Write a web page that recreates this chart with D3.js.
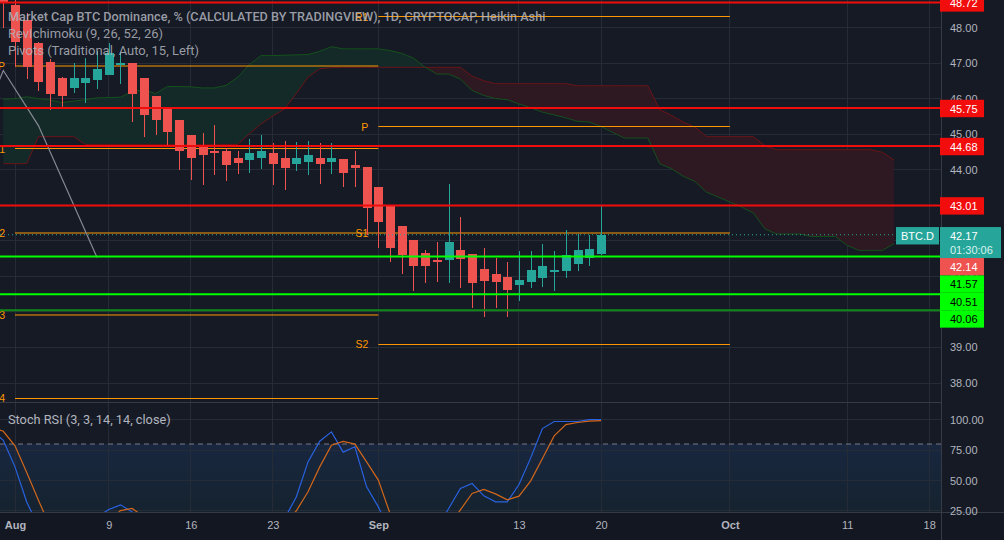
<!DOCTYPE html>
<html>
<head>
<meta charset="utf-8">
<title>BTC Dominance</title>
<script src="https://cdn.jsdelivr.net/npm/d3@7"></script>
<style>
  html, body { margin: 0; padding: 0; background: #131722; overflow: hidden; }
  svg { display: block; }
  text { font-family: "Liberation Sans", Arial, sans-serif; }
  text.legend { font-family: Roboto, sans-serif; }
</style>
</head>
<body>
<div id="chart"></div>
<script>
// Candles, one per day from 31 Jul
let candleStart = "2021-07-31";
let candleOpen = [48.95,48.62,48.20,47.55,47.04,46.59,46.31,46.45,46.51,46.65,46.94,46.99,46.57,46.06,45.75,45.41,44.99,44.68,44.54,44.54,44.34,44.26,44.34,44.46,44.32,44.17,44.23,44.34,44.23,44.29,44.12,44.09,43.50,43.02,42.43,42.01,41.67,41.47,41.45,41.73,41.64,41.22,41.08,40.97,40.77,40.83,40.96,41.14,41.14,41.36,41.53,41.64];
let candleClose = [48.68,47.59,46.90,46.48,46.14,46.06,46.59,46.59,46.82,47.27,47.00,46.12,45.55,45.41,45.05,44.54,44.32,44.40,44.48,44.12,44.20,44.48,44.54,44.15,44.06,44.34,44.40,44.15,44.32,43.92,44.06,42.91,42.52,41.81,41.59,41.28,41.28,41.44,41.98,41.50,40.80,40.88,40.83,40.63,40.91,41.19,41.28,41.19,41.59,41.73,41.76,42.17];
let candleHigh = [49.2,48.9,48.4,47.6,47.1,46.6,46.99,47.13,47.35,47.55,47.30,46.99,46.57,46.06,45.75,45.41,44.99,45.02,45.27,44.62,44.54,44.85,44.99,44.74,44.82,44.77,44.82,44.74,44.74,44.29,44.54,44.09,43.50,43.02,42.43,42.01,41.73,41.98,43.61,42.66,41.64,41.81,41.53,41.39,41.70,41.70,41.90,41.70,42.29,42.18,42.15,42.97];
let candleLow = [47.99,46.9,46.54,46.21,45.67,45.75,46.17,45.89,46.28,46.65,46.40,45.33,44.93,44.99,44.68,44.00,43.72,43.58,43.84,43.67,43.87,43.92,44.03,43.58,43.44,43.95,43.84,43.61,43.89,43.50,43.50,42.15,41.81,41.39,41.08,40.60,40.80,40.83,40.80,40.66,40.10,39.87,40.12,39.87,40.32,40.66,40.69,40.60,40.94,41.16,41.28,41.61];

// Ichimoku leading spans, same start date as the candles
let spanA = [45.98,46.00,46.05,46.00,45.96,45.89,45.93,45.97,46.02,46.03,46.04,46.20,46.25,46.14,46.34,46.34,46.33,46.30,46.30,46.37,46.60,46.96,47.21,47.21,47.22,47.23,47.24,47.33,47.46,47.40,47.40,47.40,47.40,47.35,47.27,47.14,46.88,46.69,46.69,46.55,46.23,46.09,46.00,45.97,45.85,45.74,45.62,45.54,45.46,45.36,45.34,45.22,45.05,44.89,44.89,44.89,44.17,44.03,43.82,43.67,43.37,43.23,43.09,42.95,42.78,42.33,42.19,42.19,42.19,42.12,42.12,42.12,41.87,41.73,41.73,41.73,41.92];
let spanB = [44.17,44.17,44.17,44.93,44.93,44.93,44.93,44.71,44.71,44.71,44.71,44.71,44.71,44.71,44.71,44.71,44.71,44.71,44.71,44.71,44.71,45.01,45.29,45.51,45.71,46.14,46.60,46.84,46.87,46.88,46.88,46.88,46.88,46.88,46.88,46.88,46.88,46.88,46.88,46.88,46.63,46.50,46.42,46.42,46.42,46.42,46.42,46.42,46.42,46.36,46.36,46.36,46.36,46.36,46.36,46.36,45.69,45.53,45.34,45.20,44.93,44.93,44.93,44.93,44.93,44.67,44.56,44.56,44.56,44.56,44.56,44.56,44.56,44.56,44.56,44.49,44.27];

// Stoch RSI, one per day from 30 Jul (lows below 25 sit under the pane edge)
let stochStart = "2021-07-30";
let stochK = [91.4,83.1,61.2,32.4,12,4,2,3,5,20,26.1,30,24.2,16,8,4,3,2,2,3,3,2,2,3,6,18.7,36.5,65.3,82.3,90,73.3,77.7,44.8,28.3,7.8,3,2,4,10.5,27,43.4,47.5,37.4,32.4,32.4,46.7,68.6,92.7,98.5,98.5,98.5,100.1,100.1];
let stochD = [94.1,90.5,78.5,56.6,33.8,11.9,6,3,3,6,16,25.3,27,20.1,15,9,5,3,2,2,3,3,2,2,4,14.6,25,40.7,61.2,79,82.1,79.9,65.3,50.3,22.8,12,5,3,5,11.9,25.9,39.3,42.6,39,34.1,37.1,49.7,68.1,86.7,96,97.7,98.8,99.3];

// Pivot levels
let pivotNames = ["P", "S1", "S2", "S3", "S4", "R1", "P", "S1", "S2"];
let pivotPrices = [46.917, 44.596, 42.219, 39.913, 37.564, 48.309, 45.215, 42.219, 39.083];
let pivotFrom = ["2021-08-01","2021-08-01","2021-08-01","2021-08-01","2021-08-01","2021-09-01","2021-09-01","2021-09-01","2021-09-01"];
let pivotTo = ["2021-09-01","2021-09-01","2021-09-01","2021-09-01","2021-09-01","2021-10-01","2021-10-01","2021-10-01","2021-10-01"];

// Grey trend line
let trendDates = ["2021-07-30", "2021-07-31", "2021-08-03", "2021-08-08"];
let trendPrices = [45.97, 46.79, 45.24, 41.53];

// Drawn levels
let resistance = [48.72, 45.75, 44.68, 43.01];
let support = [41.57, 40.51, 40.06];
let lastPrice = 42.17;
let haClose = 42.14;
let countdown = "01:30:06";
let symbol = "BTC.D";

// Axis ticks
let priceTicks = [48, 47, 46, 45, 44, 43, 42, 41, 40, 39, 38];
let stochTicks = [100, 75, 50, 25];
let stochBand = [80, 20];
let timeTicks = ["2021-08-01","2021-08-09","2021-08-16","2021-08-23","2021-09-01","2021-09-13","2021-09-20","2021-10-01","2021-10-11","2021-10-18"];
let timeLabels = ["Aug","9","16","23","Sep","13","20","Oct","11","18"];
let monthLabels = ["Aug","Sep","Oct"];

let legendLines = [
    "Market Cap BTC Dominance, % (CALCULATED BY TRADINGVIEW), 1D, CRYPTOCAP, Heikin Ashi",
    "RevIchimoku (9, 26, 52, 26)",
    "Pivots (Traditional, Auto, 15, Left)"
];
let stochLegend = "Stoch RSI (3, 3, 14, 14, close)";

const width = 1004, height = 540;
const plotRight = 941, mainBottom = 402, stochBottom = 512;
const bg = "#161a25", gridColor = "#262b38", tickColor = "#b2b5be";
const up = "#26a69a", down = "#ef5350", red = "#f20d0d", lime = "#00ff00", pivotColor = "#ff9800";
const supportLineColors = [lime, lime, "#0f8a17"];

const day = s => d3.utcParse("%Y-%m-%d")(s);
const dayAt = (start, i) => d3.utcDay.offset(day(start), i);

let x = d3.scaleUtc().domain([day("2021-08-01"), day("2021-10-18")]).range([15, 929.2]);
let y = d3.scaleLinear().domain([48, 38]).range([27.5, 383]);
let yStoch = d3.scaleLinear().domain([100, 25]).range([419.7, 510.9]);

let svg = d3.select("#chart").append("svg").attr("width", width).attr("height", height);
svg.append("rect").attr("width", width).attr("height", height).attr("fill", bg);
svg.append("rect").attr("y", stochBottom).attr("width", width).attr("height", height - stochBottom).attr("fill", "#131722");

let defs = svg.append("defs");
defs.append("clipPath").attr("id", "mainClip").append("rect").attr("width", plotRight).attr("height", mainBottom);
defs.append("clipPath").attr("id", "stochClip").append("rect").attr("y", mainBottom).attr("width", plotRight).attr("height", stochBottom - mainBottom);
let bandGrad = defs.append("linearGradient").attr("id", "bandGrad").attr("x1", 0).attr("x2", 0).attr("y1", 0).attr("y2", 1);
bandGrad.append("stop").attr("offset", 0).attr("stop-color", "#18273f");
bandGrad.append("stop").attr("offset", 1).attr("stop-color", "#15232f");

// Stoch band goes under the grid
svg.append("rect")
    .attr("y", yStoch(stochBand[0]))
    .attr("width", plotRight)
    .attr("height", stochBottom - yStoch(stochBand[0]))
    .attr("fill", "url(#bandGrad)");

// Grid ***********************************************************
let grid = svg.append("g").attr("stroke", gridColor).attr("stroke-width", 1).attr("shape-rendering", "crispEdges");
grid.selectAll(".v").data(timeTicks).join("line")
    .attr("x1", d => x(day(d))).attr("x2", d => x(day(d)))
    .attr("y1", 0).attr("y2", stochBottom);
grid.selectAll(".h").data(priceTicks).join("line")
    .attr("x1", 0).attr("x2", plotRight)
    .attr("y1", d => y(d)).attr("y2", d => y(d));
grid.selectAll(".s").data(stochTicks).join("line")
    .attr("x1", 0).attr("x2", plotRight)
    .attr("y1", d => yStoch(d)).attr("y2", d => yStoch(d));

// Main pane ******************************************************
let main = svg.append("g").attr("clip-path", "url(#mainClip)");

// Ichimoku cloud
let cloud = spanA.map((a, i) => ({ date: dayAt(candleStart, i), a: a, b: spanB[i] }));
let cloudArea = d3.area().x(d => x(d.date)).y0(d => y(d.a)).y1(d => y(d.b));
main.append("path").datum(cloud)
    .attr("d", cloudArea.defined(d => d.a >= d.b))
    .attr("fill", "#142a28");
main.append("path").datum(cloud)
    .attr("d", cloudArea.defined(d => d.a <= d.b))
    .attr("fill", "#2e1822");
main.append("path").datum(cloud)
    .attr("d", d3.line().x(d => x(d.date)).y(d => y(d.b)))
    .attr("fill", "none").attr("stroke", "#6a1418").attr("stroke-width", 1);
main.append("path").datum(cloud)
    .attr("d", d3.line().x(d => x(d.date)).y(d => y(d.a)))
    .attr("fill", "none").attr("stroke", "#14501c").attr("stroke-width", 1);

// Pivots
main.selectAll(".pivot").data(pivotPrices).join("line")
    .attr("x1", (d, i) => x(day(pivotFrom[i])))
    .attr("x2", (d, i) => x(day(pivotTo[i])))
    .attr("y1", d => y(d)).attr("y2", d => y(d))
    .attr("stroke", pivotColor).attr("stroke-width", 1);
main.selectAll(".pivotName").data(pivotPrices).join("text")
    .attr("x", (d, i) => x(day(pivotFrom[i])) - 10)
    .attr("y", d => y(d) + 4)
    .attr("text-anchor", "end")
    .attr("font-size", 10.5)
    .attr("fill", pivotColor)
    .text((d, i) => pivotNames[i]);

// Trend line
main.append("path")
    .datum(trendDates.map((d, i) => [x(day(d)), y(trendPrices[i])]))
    .attr("d", d3.line())
    .attr("fill", "none").attr("stroke", "#868993").attr("stroke-width", 1.2);

// Candles
let candles = candleOpen.map((o, i) => ({
    date: dayAt(candleStart, i), open: o, close: candleClose[i], high: candleHigh[i], low: candleLow[i]
}));
let candleG = main.append("g").attr("shape-rendering", "crispEdges");
candleG.selectAll(".wick").data(candles).join("rect")
    .attr("x", d => Math.round(x(d.date)))
    .attr("width", 1)
    .attr("y", d => y(d.high))
    .attr("height", d => y(d.low) - y(d.high))
    .attr("fill", d => d.close >= d.open ? up : down);
candleG.selectAll(".body").data(candles).join("rect")
    .attr("x", d => Math.round(x(d.date)) - 4)
    .attr("width", 9)
    .attr("y", d => y(Math.max(d.open, d.close)))
    .attr("height", d => Math.max(2, Math.abs(y(d.open) - y(d.close))))
    .attr("fill", d => d.close >= d.open ? up : down);

// Last price dotted line
main.append("line")
    .attr("x1", 0).attr("x2", plotRight)
    .attr("y1", y(lastPrice)).attr("y2", y(lastPrice))
    .attr("stroke", up).attr("stroke-width", 1).attr("stroke-dasharray", "1 3");

// Horizontal levels
main.selectAll(".res").data(resistance).join("line")
    .attr("x1", 0).attr("x2", plotRight)
    .attr("y1", d => y(d) + 0.5).attr("y2", d => y(d) + 0.5)
    .attr("stroke", red).attr("stroke-width", 2);
main.selectAll(".sup").data(support).join("line")
    .attr("x1", 0).attr("x2", plotRight)
    .attr("y1", d => y(d) + 0.5).attr("y2", d => y(d) + 0.5)
    .attr("stroke", (d, i) => supportLineColors[i]).attr("stroke-width", 2);

// Stoch pane *****************************************************
let stochPane = svg.append("g").attr("clip-path", "url(#stochClip)");
stochPane.append("line")
    .attr("x1", 0).attr("x2", plotRight)
    .attr("y1", yStoch(stochBand[0])).attr("y2", yStoch(stochBand[0]))
    .attr("stroke", "#787b86").attr("stroke-dasharray", "5 4");
let stochLine = d3.line().x((d, i) => x(dayAt(stochStart, i))).y(d => yStoch(d));
stochPane.append("path").datum(stochK)
    .attr("d", stochLine)
    .attr("fill", "none").attr("stroke", "#2962e0").attr("stroke-width", 1.2);
stochPane.append("path").datum(stochD)
    .attr("d", stochLine)
    .attr("fill", "none").attr("stroke", "#d2661a").attr("stroke-width", 1.2);

// Frame lines
let frame = svg.append("g").attr("stroke", "#363a45").attr("shape-rendering", "crispEdges");
frame.append("line").attr("x1", 0).attr("x2", plotRight).attr("y1", mainBottom).attr("y2", mainBottom);
frame.append("line").attr("x1", 0).attr("x2", width).attr("y1", stochBottom).attr("y2", stochBottom);
frame.append("line").attr("x1", plotRight).attr("x2", plotRight).attr("y1", 0).attr("y2", height);

// Legends ********************************************************
svg.selectAll(".legendLine").data(legendLines).join("text")
    .attr("class", "legend")
    .attr("x", 8)
    .attr("y", (d, i) => 21 + i * 17)
    .attr("font-size", (d, i) => i == 0 ? 12.7 : 13)
    .attr("font-weight", (d, i) => i == 0 ? 500 : 400)
    .attr("fill", tickColor)
    .attr("fill-opacity", 0.85)
    .text(d => d);
svg.append("text")
    .attr("class", "legend")
    .attr("x", 8).attr("y", 424)
    .attr("font-size", 12.75)
    .attr("fill", tickColor)
    .text(stochLegend);

// Axes ***********************************************************
let priceAxis = d3.axisRight(y).tickValues(priceTicks).tickFormat(d3.format(".2f")).tickSize(0).tickPadding(0);
let priceG = svg.append("g").attr("transform", `translate(${950},0)`).call(priceAxis);
let stochAxis = d3.axisRight(yStoch).tickValues(stochTicks).tickFormat(d3.format(".2f")).tickSize(0).tickPadding(0);
let stochG = svg.append("g").attr("transform", `translate(${950},0)`).call(stochAxis);
[priceG, stochG].forEach(g => {
    g.select(".domain").remove();
    g.selectAll("text").attr("font-size", 11).attr("fill", tickColor);
});

let timeAxis = d3.axisBottom(x)
    .tickValues(timeTicks.map(day))
    .tickFormat((d, i) => timeLabels[i])
    .tickSize(0).tickPadding(0);
let timeG = svg.append("g").attr("transform", `translate(0,${521})`).call(timeAxis);
timeG.select(".domain").remove();
timeG.selectAll("text")
    .attr("font-size", 11)
    .attr("fill", tickColor)
    .attr("font-weight", (d, i) => monthLabels.includes(timeLabels[i]) ? 700 : 400);

// Price labels, stacked downward so they don't overlap ***********
const labelH = 17.4, labelW = 44;
let labels = [
    ...resistance.map(p => ({ price: p, text: p.toFixed(2), fill: red, color: "#ffffff" })),
    { price: lastPrice, text: lastPrice.toFixed(2), sub: countdown, fill: up, color: "#ffffff" },
    { price: haClose, text: haClose.toFixed(2), fill: down, color: "#ffffff" },
    ...support.map(p => ({ price: p, text: p.toFixed(2), fill: lime, color: "#000000" }))
];
let nextTop = -Infinity;
labels.forEach(d => {
    d.top = Math.max(y(d.price) + 1 - labelH / 2, nextTop);
    d.h = d.sub ? labelH * 1.78 : labelH;
    nextTop = d.top + d.h;
});
let labelG = svg.selectAll(".priceLabel").data(labels).join("g")
    .attr("transform", d => `translate(${plotRight - 1},${d.top})`);
labelG.append("rect")
    .attr("width", d => d.sub ? 61 : labelW)
    .attr("height", d => d.h)
    .attr("fill", d => d.fill);
labelG.append("text")
    .attr("x", 10).attr("y", 13)
    .attr("font-size", 11)
    .attr("fill", d => d.color)
    .text(d => d.text);
labelG.filter(d => d.sub).append("text")
    .attr("x", 10).attr("y", 27)
    .attr("font-size", 11)
    .attr("fill", "#d8f3f0")
    .text(d => d.sub);

// Symbol tag
let tag = svg.append("g").attr("transform", `translate(${896},${y(lastPrice) + 1 - labelH / 2})`);
tag.append("rect").attr("width", 43).attr("height", labelH).attr("fill", up);
tag.append("text").attr("x", 5).attr("y", 13).attr("font-size", 11).attr("fill", "#ffffff").text(symbol);
</script>
</body>
</html>
